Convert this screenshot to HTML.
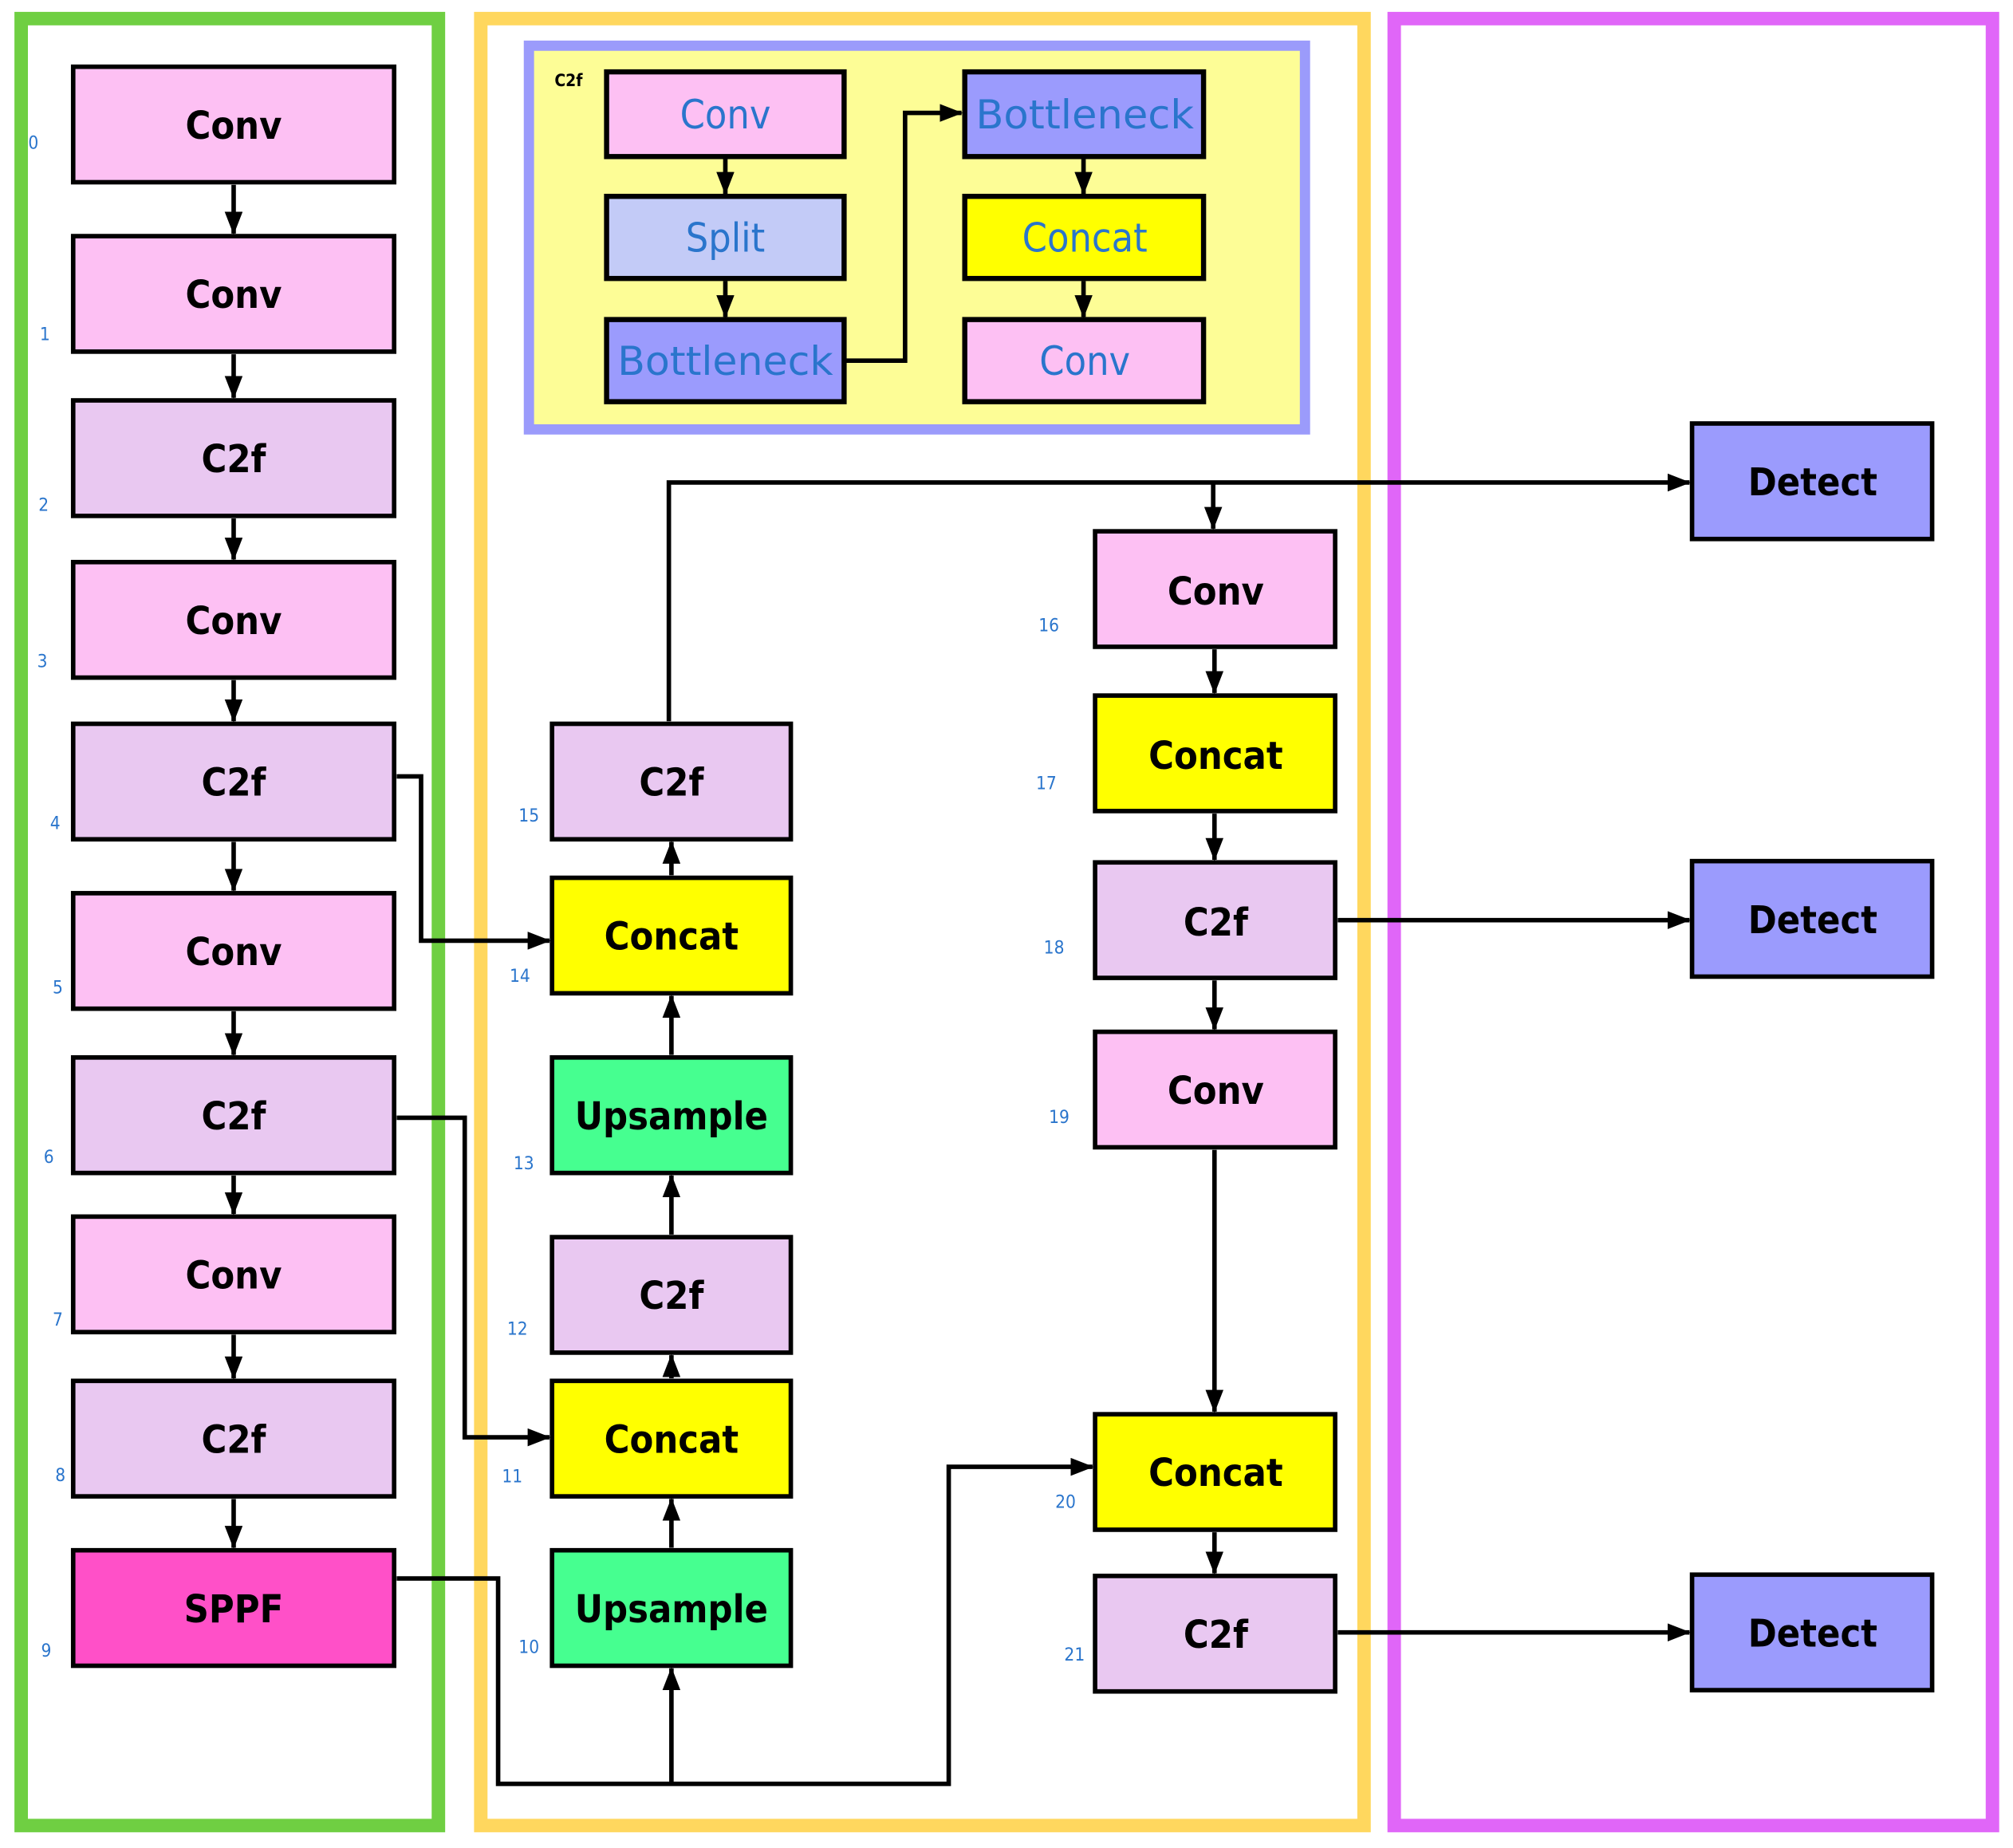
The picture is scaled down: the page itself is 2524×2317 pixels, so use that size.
<!DOCTYPE html>
<html><head><meta charset="utf-8"><style>
html,body{margin:0;padding:0;background:#fff;}
svg{display:block;}
.b{font-family:"DejaVu Sans Condensed","DejaVu Sans","Liberation Sans",sans-serif;font-stretch:condensed;font-weight:bold;font-size:30px;fill:#000;}
.i{font-family:"DejaVu Sans Condensed","DejaVu Sans","Liberation Sans",sans-serif;font-stretch:condensed;font-size:31px;fill:#2a75cc;}
.n{font-family:"DejaVu Sans Condensed","DejaVu Sans","Liberation Sans",sans-serif;font-stretch:condensed;font-size:14px;fill:#2a75cc;}
</style></head><body>
<svg width="2524" height="2317" viewBox="0 0 1568 1440" preserveAspectRatio="none" xmlns="http://www.w3.org/2000/svg">
<defs>
<marker id="a" markerWidth="18" markerHeight="14" refX="17" refY="7" orient="auto" markerUnits="userSpaceOnUse">
<path d="M0,0 L18,7 L0,14 Z" fill="#000"/></marker>
</defs>
<rect x="16.5" y="14.5" width="325" height="1408" fill="none" stroke="#6fcf42" stroke-width="10.5"/>
<rect x="374.5" y="14.5" width="688" height="1408" fill="none" stroke="#ffd75e" stroke-width="10.5"/>
<rect x="1086" y="14.5" width="466" height="1408" fill="none" stroke="#e066f8" stroke-width="10.5"/>

<rect x="412" y="35.6" width="604.5" height="299" fill="#fdfd96" stroke="#9b9bfb" stroke-width="8"/>
<text x="432" y="67" style="font-family:'DejaVu Sans Condensed','DejaVu Sans',sans-serif;font-weight:bold;font-size:13px">C2f</text>
<g stroke="#000" stroke-width="4">
<rect x="472.5" y="56" width="185" height="66" fill="#fdc0f3"/>
<rect x="472.5" y="153" width="185" height="64" fill="#c3cbf7"/>
<rect x="472.5" y="249" width="185" height="64" fill="#9b9bfd"/>
<rect x="751.5" y="56" width="186" height="66" fill="#9b9bfd"/>
<rect x="751.5" y="153" width="186" height="64" fill="#ffff00"/>
<rect x="751.5" y="249" width="186" height="64" fill="#fdc0f3"/>
</g>
<g stroke="#000" stroke-width="3.5" fill="none">
<line x1="565" y1="124" x2="565" y2="151" marker-end="url(#a)"/>
<line x1="565" y1="219" x2="565" y2="247" marker-end="url(#a)"/>
<polyline points="659,281 705,281 705,88 749,88" marker-end="url(#a)"/>
<line x1="844" y1="124" x2="844" y2="151" marker-end="url(#a)"/>
<line x1="844" y1="219" x2="844" y2="247" marker-end="url(#a)"/>
</g>
<g class="i" text-anchor="middle">
<text x="565" y="100">Conv</text>
<text x="565" y="196">Split</text>
<text x="565" y="292" textLength="168" lengthAdjust="spacingAndGlyphs">Bottleneck</text>
<text x="845" y="100" textLength="170" lengthAdjust="spacingAndGlyphs">Bottleneck</text>
<text x="845" y="196">Concat</text>
<text x="845" y="292">Conv</text>
</g>

<g stroke="#000" stroke-width="3.5" fill="none">
<line x1="182" y1="144" x2="182" y2="182" marker-end="url(#a)"/>
<line x1="182" y1="276" x2="182" y2="310" marker-end="url(#a)"/>
<line x1="182" y1="404" x2="182" y2="436" marker-end="url(#a)"/>
<line x1="182" y1="530" x2="182" y2="562" marker-end="url(#a)"/>
<line x1="182" y1="656" x2="182" y2="694" marker-end="url(#a)"/>
<line x1="182" y1="788" x2="182" y2="822" marker-end="url(#a)"/>
<line x1="182" y1="916" x2="182" y2="946" marker-end="url(#a)"/>
<line x1="182" y1="1040" x2="182" y2="1074" marker-end="url(#a)"/>
<line x1="182" y1="1168" x2="182" y2="1206" marker-end="url(#a)"/>
<polyline points="309,605 328,605 328,733 428,733" marker-end="url(#a)"/>
<polyline points="309,871 362,871 362,1120 428,1120" marker-end="url(#a)"/>
<polyline points="309,1230 388,1230 388,1390 739,1390 739,1143 851,1143" marker-end="url(#a)"/>
<line x1="523" y1="1390" x2="523" y2="1300" marker-end="url(#a)"/>
<line x1="523" y1="1206" x2="523" y2="1168" marker-end="url(#a)"/>
<line x1="523" y1="1074" x2="523" y2="1056" marker-end="url(#a)"/>
<line x1="523" y1="962" x2="523" y2="916" marker-end="url(#a)"/>
<line x1="523" y1="822" x2="523" y2="776" marker-end="url(#a)"/>
<line x1="523" y1="682" x2="523" y2="656" marker-end="url(#a)"/>
<polyline points="521,562 521,376 1316,376" marker-end="url(#a)"/>
<line x1="945" y1="376" x2="945" y2="412" marker-end="url(#a)"/>
<line x1="946" y1="506" x2="946" y2="540" marker-end="url(#a)"/>
<line x1="946" y1="634" x2="946" y2="670" marker-end="url(#a)"/>
<line x1="946" y1="764" x2="946" y2="802" marker-end="url(#a)"/>
<line x1="946" y1="896" x2="946" y2="1100" marker-end="url(#a)"/>
<line x1="946" y1="1194" x2="946" y2="1226" marker-end="url(#a)"/>
<line x1="1042" y1="717" x2="1316" y2="717" marker-end="url(#a)"/>
<line x1="1042" y1="1272" x2="1316" y2="1272" marker-end="url(#a)"/>
</g>

<g stroke="#000" stroke-width="3.5">
<rect x="57" y="52" width="250" height="90" fill="#fdc0f3"/>
<rect x="57" y="184" width="250" height="90" fill="#fdc0f3"/>
<rect x="57" y="312" width="250" height="90" fill="#e9c8f1"/>
<rect x="57" y="438" width="250" height="90" fill="#fdc0f3"/>
<rect x="57" y="564" width="250" height="90" fill="#e9c8f1"/>
<rect x="57" y="696" width="250" height="90" fill="#fdc0f3"/>
<rect x="57" y="824" width="250" height="90" fill="#e9c8f1"/>
<rect x="57" y="948" width="250" height="90" fill="#fdc0f3"/>
<rect x="57" y="1076" width="250" height="90" fill="#e9c8f1"/>
<rect x="57" y="1208" width="250" height="90" fill="#ff50c8"/>

<rect x="430" y="564" width="186" height="90" fill="#e9c8f1"/>
<rect x="430" y="684" width="186" height="90" fill="#ffff00"/>
<rect x="430" y="824" width="186" height="90" fill="#46ff90"/>
<rect x="430" y="964" width="186" height="90" fill="#e9c8f1"/>
<rect x="430" y="1076" width="186" height="90" fill="#ffff00"/>
<rect x="430" y="1208" width="186" height="90" fill="#46ff90"/>

<rect x="853" y="414" width="187" height="90" fill="#fdc0f3"/>
<rect x="853" y="542" width="187" height="90" fill="#ffff00"/>
<rect x="853" y="672" width="187" height="90" fill="#e9c8f1"/>
<rect x="853" y="804" width="187" height="90" fill="#fdc0f3"/>
<rect x="853" y="1102" width="187" height="90" fill="#ffff00"/>
<rect x="853" y="1228" width="187" height="90" fill="#e9c8f1"/>

<rect x="1318" y="330" width="187" height="90" fill="#9b9bfd"/>
<rect x="1318" y="671" width="187" height="90" fill="#9b9bfd"/>
<rect x="1318" y="1227" width="187" height="90" fill="#9b9bfd"/>
</g>
<g class="b" text-anchor="middle">
<text x="182" y="108">Conv</text>
<text x="182" y="240">Conv</text>
<text x="182" y="368">C2f</text>
<text x="182" y="494">Conv</text>
<text x="182" y="620">C2f</text>
<text x="182" y="752">Conv</text>
<text x="182" y="880">C2f</text>
<text x="182" y="1004">Conv</text>
<text x="182" y="1132">C2f</text>
<text x="182" y="1264">SPPF</text>
<text x="523" y="620">C2f</text>
<text x="523" y="740">Concat</text>
<text x="523" y="880">Upsample</text>
<text x="523" y="1020">C2f</text>
<text x="523" y="1132">Concat</text>
<text x="523" y="1264">Upsample</text>
<text x="947" y="471">Conv</text>
<text x="947" y="599">Concat</text>
<text x="947" y="729">C2f</text>
<text x="947" y="860">Conv</text>
<text x="947" y="1158">Concat</text>
<text x="947" y="1284">C2f</text>
<text x="1412" y="386">Detect</text>
<text x="1412" y="727">Detect</text>
<text x="1412" y="1283">Detect</text>
</g>
<g class="n">
<text x="22" y="116">0</text>
<text x="31" y="265">1</text>
<text x="30" y="398">2</text>
<text x="29" y="520">3</text>
<text x="39" y="646">4</text>
<text x="41" y="774">5</text>
<text x="34" y="906">6</text>
<text x="41" y="1033">7</text>
<text x="43" y="1154">8</text>
<text x="32" y="1291">9</text>
<text x="404" y="640">15</text>
<text x="397" y="765">14</text>
<text x="400" y="911">13</text>
<text x="395" y="1040">12</text>
<text x="391" y="1155">11</text>
<text x="404" y="1288">10</text>
<text x="809" y="492">16</text>
<text x="807" y="615">17</text>
<text x="813" y="743">18</text>
<text x="817" y="875">19</text>
<text x="822" y="1175">20</text>
<text x="829" y="1294">21</text>
</g>
</svg>
</body></html>
